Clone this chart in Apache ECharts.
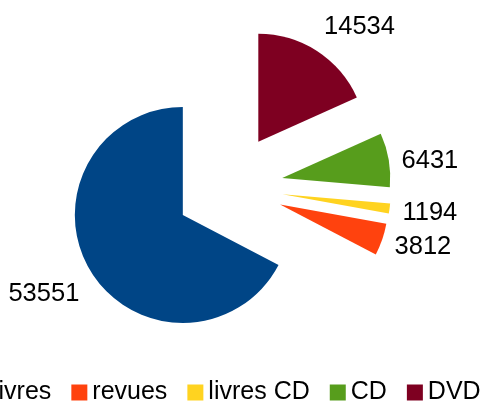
<!DOCTYPE html>
<html lang="fr">

<head>
    <meta charset="UTF-8">
    <title>Pie chart</title>
    <script src="https://cdn.jsdelivr.net/npm/echarts@6/dist/echarts.min.js"></script>
    <style>
        body {
            margin: 0;
            padding: 0;
            background: #fff;
        }

        #chart {
            width: 485px;
            height: 403px;
        }
    </style>
</head>

<body>
    <div id="chart"></div>

    <script>
        // categories and values
        var categories = ['livres', 'revues', 'livres CD', 'CD', 'DVD'];
        var values = [53551, 3812, 1194, 6431, 14534];
        var colors = ['#004586', '#ff420e', '#ffd320', '#579d1c', '#7e0021'];

        var total = values.reduce((a, b) => a + b, 0);

        // middle angle of each slice (counterclockwise from 12 o'clock)
        var midAngles = [];
        var acc = 0;
        values.forEach(v => {
            midAngles.push(90 + (acc + v / 2) / total * 360);
            acc += v;
        });

        var myChart = echarts.init(document.getElementById('chart'));

        myChart.setOption({
            animation: false,
            color: colors,
            legend: {
                data: categories,
                orient: 'horizontal',
                left: -28,
                top: 380,
                width: 700,
                padding: 0,
                itemWidth: 16,
                itemHeight: 16,
                itemGap: 20,
                icon: 'rect',
                textStyle: {
                    fontFamily: 'Liberation Sans',
                    fontSize: 25,
                    color: '#000'
                }
            },
            series: [{
                type: 'pie',
                center: [229, 187],
                radius: 108,
                startAngle: 90,
                clockwise: false,
                selectedMode: 'multiple',
                selectedOffset: 54,
                avoidLabelOverlap: false,
                itemStyle: {
                    borderWidth: 0
                },
                emphasis: {
                    disabled: true
                },
                label: {
                    show: true,
                    position: 'outside',
                    alignTo: 'none',
                    distanceToLabelLine: 0,
                    formatter: '{c}',
                    fontFamily: 'Liberation Sans',
                    fontSize: 25.5,
                    color: '#000'
                },
                labelLine: {
                    show: false,
                    length: 13,
                    length2: 0
                },
                // text sits beside the slice like in the office chart
                labelLayout: function (p) {
                    var a = midAngles[p.dataIndex] * Math.PI / 180;
                    var dy = -Math.sin(a);
                    var va = dy < -0.45 ? 'bottom' : (dy > 0.45 ? 'top' : 'middle');
                    return {
                        dy: va === 'bottom' ? 0 : 3,
                        verticalAlign: va
                    };
                },
                data: categories.map((name, i) => ({
                    name: name,
                    value: values[i],
                    selected: true
                }))
            }]
        });
    </script>
</body>

</html>
